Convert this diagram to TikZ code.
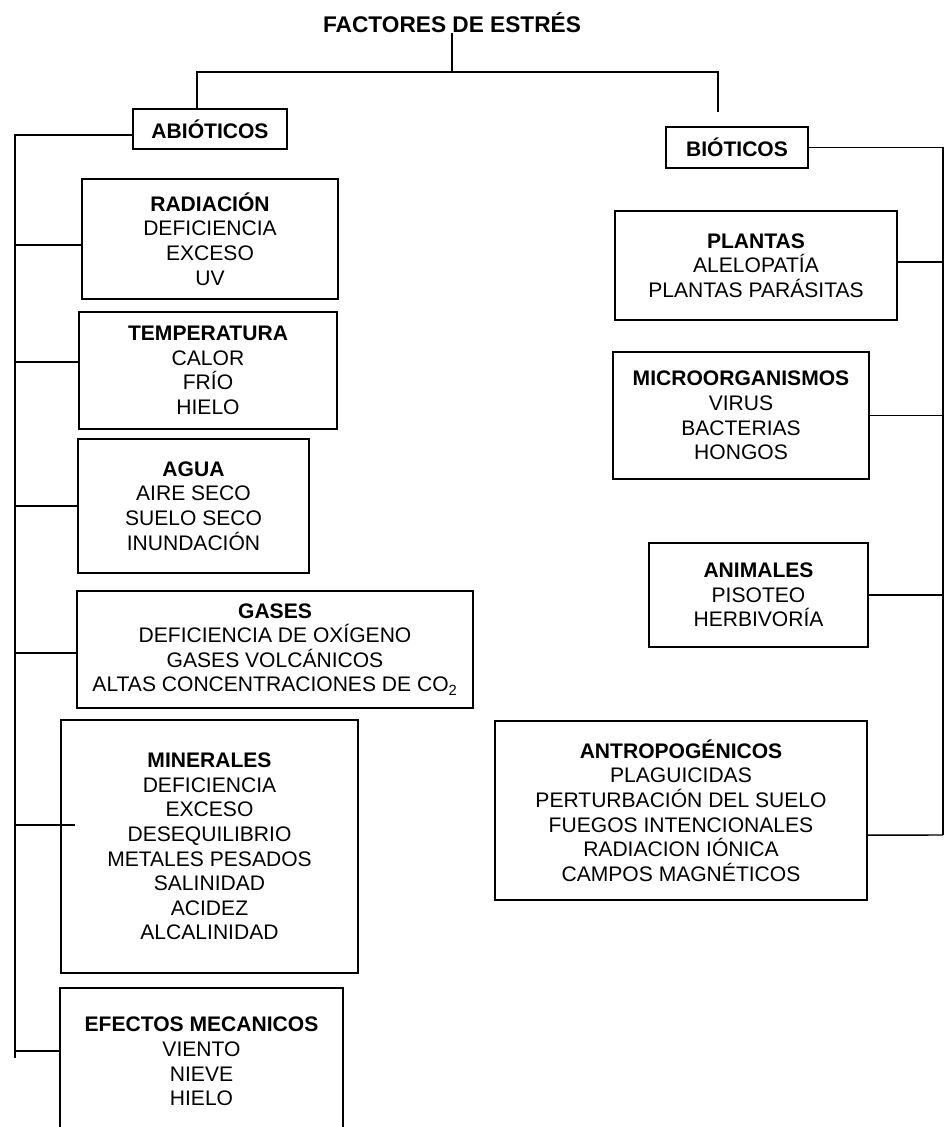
\documentclass[tikz,border=0pt]{standalone}
\usepackage{fontspec}
\setmainfont{Liberation Sans}

\begin{document}
\begin{tikzpicture}[x=0.75pt, y=-0.75pt,
        box/.style={draw, line width=1.1pt, align=center, inner sep=0pt,
            font=\fontsize{15.8}{18.4}\selectfont},
        link/.style={line width=1.1pt}]
        \useasboundingbox (0,0) rectangle (945,1127);

        % Title
        \node[anchor=base, inner sep=0pt, font=\bfseries\fontsize{17}{20}\selectfont] (ttl) at (452,33) {FACTORES DE ESTRÉS};
        \coordinate (split) at (452,72);

        % Main groups
        \node[box, minimum width=115.5pt, minimum height=30pt] (ab) at (210,129) {\textbf{ABIÓTICOS}};
        \node[box, minimum width=106.5pt, minimum height=30.75pt] (bio) at (737,147.5) {\textbf{BIÓTICOS}};

        % Abiotic factors
        \node[box, minimum width=192pt, minimum height=90pt] (rad) at (210,239)
            {\textbf{RADIACIÓN}\\DEFICIENCIA\\EXCESO\\UV};
        \node[box, minimum width=193.5pt, minimum height=87.75pt] (tem) at (208,370.5)
            {\textbf{TEMPERATURA}\\CALOR\\FRÍO\\HIELO};
        \node[box, minimum width=173.25pt, minimum height=100.5pt] (agu) at (193.5,506)
            {\textbf{AGUA}\\AIRE SECO\\SUELO SECO\\INUNDACIÓN};
        \node[box, minimum width=297pt, minimum height=87.75pt] (gas) at (275,649.5)
            {\textbf{GASES}\\DEFICIENCIA DE OXÍGENO\\GASES VOLCÁNICOS\\ALTAS CONCENTRACIONES DE CO\textsubscript{2}};
        \node[box, minimum width=222.75pt, minimum height=189.75pt] (min) at (209.5,846.5)
            {\textbf{MINERALES}\\DEFICIENCIA\\EXCESO\\DESEQUILIBRIO\\METALES PESADOS\\SALINIDAD\\ACIDEZ\\ALCALINIDAD};
        \node[box, minimum width=212.25pt, minimum height=110pt] (efe) at (201.5,1061.5)
            {\textbf{EFECTOS MECANICOS}\\VIENTO\\NIEVE\\HIELO};

        % Biotic factors
        \node[box, minimum width=211.5pt, minimum height=81.75pt] (pla) at (756,265.5)
            {\textbf{PLANTAS}\\ALELOPATÍA\\PLANTAS PARÁSITAS};
        \node[box, minimum width=192pt, minimum height=95.25pt] (mic) at (741,415.5)
            {\textbf{MICROORGANISMOS}\\VIRUS\\BACTERIAS\\HONGOS};
        \node[box, minimum width=164.25pt, minimum height=78pt] (ani) at (758.5,595)
            {\textbf{ANIMALES}\\PISOTEO\\HERBIVORÍA};
        \node[box, minimum width=279pt, minimum height=134.25pt] (ant) at (681,810.5)
            {\textbf{ANTROPOGÉNICOS}\\PLAGUICIDAS\\PERTURBACIÓN DEL SUELO\\FUEGOS INTENCIONALES\\RADIACION IÓNICA\\CAMPOS MAGNÉTICOS};

        % Top branches
        \draw[link] (ttl.south) -- (split);
        \draw[link] ([xshift=-9.75pt]ab.north) |- (split) -| ([xshift=-14.25pt, yshift=10.5pt]bio.north);

        % Left spine
        \coordinate (lbot) at (15,1058);
        \draw[link] ([yshift=-4.5pt]ab.west) -| (lbot);
        \draw[link] ([yshift=-4.5pt]rad.west) -- ([yshift=-4.5pt]rad.west -| lbot);
        \draw[link] ([yshift=6.4pt]tem.west) -- ([yshift=6.4pt]tem.west -| lbot);
        \draw[link] (agu.west) -- (agu.west -| lbot);
        \draw[link] ([yshift=-2.6pt]gas.west) -- ([yshift=-2.6pt]gas.west -| lbot);
        \draw[link] ([xshift=11pt, yshift=16pt]min.west) -- ([yshift=16pt]min.west -| lbot);
        \draw[link] ([yshift=8pt]efe.west) -- ([yshift=8pt]efe.west -| lbot);

        % Right spine
        \coordinate (rbot) at (943,835);
        \draw[link] (bio.east) -| (rbot);
        \draw[link] ([yshift=2.6pt]pla.east) -- ([yshift=2.6pt]pla.east -| rbot);
        \draw[link] (mic.east) -- (mic.east -| rbot);
        \draw[link] (ani.east) -- (ani.east -| rbot);
        \draw[link] ([yshift=-18.4pt]ant.east) -- (rbot);
    \end{tikzpicture}
\end{document}
